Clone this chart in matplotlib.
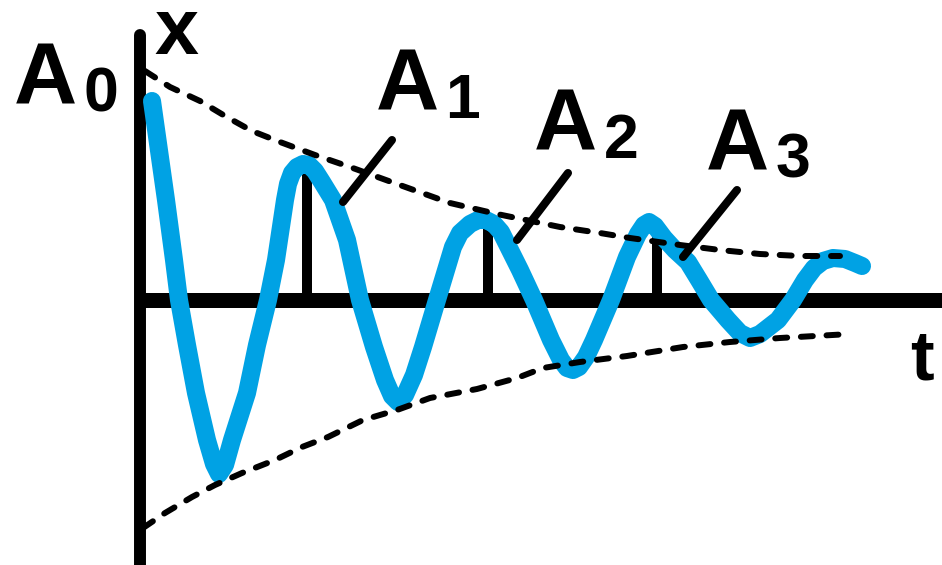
import matplotlib
matplotlib.use("Agg")
import matplotlib.pyplot as plt

# Damped oscillation x(t): sampled points along the drawn curve
curve_t = [12, 26, 34, 39, 47, 56, 67, 74, 79, 85, 92, 107, 117, 128, 136, 145,
           148, 152, 157, 163, 169, 175, 182, 193, 207, 220, 234, 245, 252, 258,
           265, 274, 283, 297, 313, 320, 330, 338, 346, 354, 361, 370, 380, 394,
           411, 421, 427, 433, 439, 446, 454, 471, 487, 498, 504, 509, 515, 524,
           535, 548, 559, 571, 588, 600, 610, 620, 638, 653, 665, 674, 683, 693,
           705, 715, 722]
curve_x = [199, 100, 40, 0, -45, -93, -140, -164, -174, -165, -140, -93, -45, 0,
           40, 100, 116, 127, 133, 136, 135, 129, 118, 100, 60, 0, -47, -80, -96,
           -102, -95, -75, -47, 0, 53, 67, 76, 80, 80, 76, 68, 50, 30, 0, -40, -60,
           -68, -70, -67, -57, -40, 0, 43, 66, 75, 78, 74, 62, 50, 38, 20, 0, -20,
           -33, -38, -34, -20, 0, 20, 32, 39, 42, 41, 37, 34]

# Upper and lower amplitude envelopes
env_upper_t = [5, 30, 60, 85, 112, 140, 175, 210, 257, 310, 357, 420, 460, 490,
               540, 580, 620, 660, 700]
env_upper_x = [229, 213, 199, 184, 169, 158, 145, 133, 116, 97, 86, 73, 67, 62,
               55, 50, 46, 44, 44]
env_lower_t = [3, 25, 52, 75, 102, 135, 162, 188, 223, 257, 290, 337, 377, 403,
               440, 487, 543, 590, 640, 710]
env_lower_x = [-228, -213, -197, -185, -173, -160, -147, -137, -120, -110, -98,
               -89, -78, -68, -62, -56, -47, -42, -38, -34]

# Successive amplitudes A1..A3 (stem position and height)
amp_labels = ["1", "2", "3"]
amp_t = [167, 348, 517]
amp_x = [135, 80, 72]

# Leader lines from each amplitude label to its peak
leader_t0 = [252, 428, 597]
leader_x0 = [160, 127, 110]
leader_t1 = [203, 377, 543]
leader_x1 = [98, 60, 43]

BLUE = "#00a2e4"
FONT = "Liberation Sans"

fig = plt.figure(figsize=(9.42, 5.65), dpi=100)
ax = fig.add_axes([0, 0, 1, 1])
ax.set_xlim(-140, 802)
ax.set_ylim(-265, 300)
ax.axis("off")

# Axes
ax.plot([0, 0], [265, -280], color="black", lw=8.6, solid_capstyle="round", zorder=1)
ax.plot([0, 820], [0, 0], color="black", lw=10.8, solid_capstyle="butt", zorder=1)

# Amplitude stems
for t, x in zip(amp_t, amp_x):
    ax.plot([t, t], [0, x], color="black", lw=7.2, solid_capstyle="butt", zorder=2)

# Oscillation
ax.plot(curve_t, curve_x, color=BLUE, lw=13, solid_joinstyle="round",
        solid_capstyle="round", zorder=3)

# Envelopes
for et, ex in ((env_upper_t, env_upper_x), (env_lower_t, env_lower_x)):
    ax.plot(et, ex, color="black", lw=4.3, linestyle=(0, (2.0, 2.3)),
            dash_capstyle="round", zorder=4)

# Leaders
for a, b, c, d in zip(leader_t0, leader_x0, leader_t1, leader_x1):
    ax.plot([a, c], [b, d], color="black", lw=5.8, solid_capstyle="round", zorder=5)

# Labels
big = dict(family=FONT, weight="bold", fontsize=63, ha="left", va="baseline", zorder=6)
sub = dict(family=FONT, weight="bold", fontsize=45, ha="left", va="baseline", zorder=6)

ax.text(-126, 197, "A", **big)
ax.text(-56, 189, "0", **sub)

label_pos = [(236, 190, 305, 182), (394, 150, 464, 142), (566, 131, 636, 123)]
for lab, (ta, ya, td, yd) in zip(amp_labels, label_pos):
    ax.text(ta, ya, "A", **big)
    ax.text(td, yd, lab, **sub)

ax.text(14, 246, "x", family=FONT, weight="bold", fontsize=57, ha="left",
        va="baseline", zorder=6)
ax.text(770, -80, "t", family=FONT, weight="bold", fontsize=51, ha="left",
        va="baseline", zorder=6)

fig.savefig("out.png", dpi=100)
